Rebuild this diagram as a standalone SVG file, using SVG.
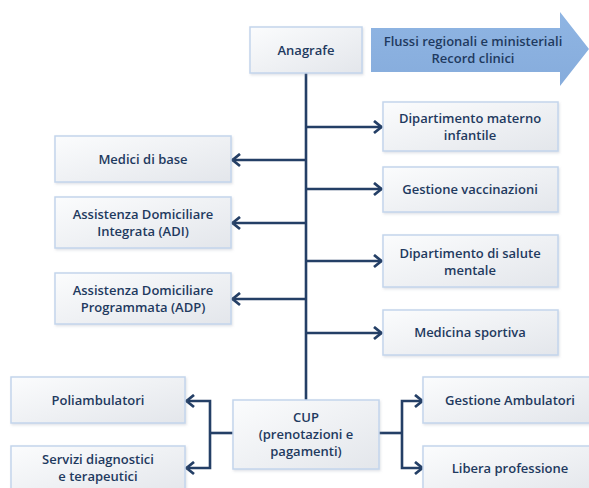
<svg xmlns="http://www.w3.org/2000/svg" width="589" height="488" viewBox="0 0 589 488">
  <defs>
    <linearGradient id="boxFill" x1="0" y1="0" x2="1" y2="1">
      <stop offset="0" stop-color="#fbfcfd"/>
      <stop offset="1" stop-color="#e3e6eb"/>
    </linearGradient>
    <linearGradient id="bigArrowFill" x1="0" y1="0" x2="0" y2="1">
      <stop offset="0" stop-color="#8fb5e3"/>
      <stop offset="1" stop-color="#86acdc"/>
    </linearGradient>
    <filter id="soft" x="-5%" y="-5%" width="115%" height="120%">
      <feDropShadow dx="1" dy="1.5" stdDeviation="1" flood-color="#7f8ea3" flood-opacity="0.25"/>
    </filter>
    <marker id="head" viewBox="0 0 11 15" refX="10" refY="7.5" markerWidth="11" markerHeight="15" markerUnits="userSpaceOnUse" orient="auto">
      <path d="M2,1.5 L9.5,7.5 L2,13.5" fill="none" stroke="#243f66" stroke-width="2.8" stroke-linejoin="miter"/>
    </marker>
  </defs>
  <style>
    .box { fill: url(#boxFill); stroke: #c3d5ec; stroke-width: 1.5; filter: url(#soft); }
    .lbl { font-family: "Open Sans", "Noto Sans", "DejaVu Sans", sans-serif; font-size: 13px; font-weight: 600; fill: #1f3a5f; text-anchor: middle; }
    .wire { fill: none; stroke: #243f66; stroke-width: 2.6; }
    .arr { marker-end: url(#head); }
  </style>

  <rect width="589" height="488" fill="#ffffff"/>

  <!-- connectors -->
  <g id="connectors">
    <line class="wire" x1="306" y1="73" x2="306" y2="400"/>
    <line class="wire arr" x1="306" y1="127" x2="382" y2="127"/>
    <line class="wire arr" x1="306" y1="189" x2="382" y2="189"/>
    <line class="wire arr" x1="306" y1="261" x2="382" y2="261"/>
    <line class="wire arr" x1="306" y1="333" x2="382" y2="333"/>
    <line class="wire arr" x1="306" y1="160" x2="232" y2="160"/>
    <line class="wire arr" x1="306" y1="223" x2="232" y2="223"/>
    <line class="wire arr" x1="306" y1="299" x2="232" y2="299"/>
    <!-- CUP fan-out left -->
    <line class="wire" x1="233" y1="433" x2="210" y2="433"/>
    <path class="wire arr" d="M210,433 V401 H186"/>
    <path class="wire arr" d="M210,433 V468 H186"/>
    <!-- CUP fan-out right -->
    <line class="wire" x1="379" y1="433" x2="402" y2="433"/>
    <path class="wire arr" d="M402,433 V401 H423"/>
    <path class="wire arr" d="M402,433 V468 H423"/>
  </g>

  <g id="flussi">
    <path d="M371,28 H560 V12 L589,49 L560,86 V72 H371 Z" fill="url(#bigArrowFill)"/>
    <text class="lbl" x="473" y="46">Flussi regionali e ministeriali</text>
    <text class="lbl" x="473" y="63">Record clinici</text>
  </g>

  <g id="anagrafe">
    <rect class="box" x="250" y="27" width="112" height="46"/>
    <text class="lbl" x="306" y="55">Anagrafe</text>
  </g>

  <g id="materno">
    <rect class="box" x="383" y="102" width="175" height="49"/>
    <text class="lbl" x="470" y="123">Dipartimento materno</text>
    <text class="lbl" x="470" y="140">infantile</text>
  </g>
  <g id="vaccinazioni">
    <rect class="box" x="383" y="167" width="175" height="45"/>
    <text class="lbl" x="470" y="194">Gestione vaccinazioni</text>
  </g>
  <g id="salute-mentale">
    <rect class="box" x="383" y="235" width="175" height="52"/>
    <text class="lbl" x="470" y="258">Dipartimento di salute</text>
    <text class="lbl" x="470" y="275">mentale</text>
  </g>
  <g id="medicina-sportiva">
    <rect class="box" x="383" y="310" width="175" height="45"/>
    <text class="lbl" x="470" y="337">Medicina sportiva</text>
  </g>

  <g id="medici">
    <rect class="box" x="55" y="136" width="176" height="46"/>
    <text class="lbl" x="143" y="164">Medici di base</text>
  </g>
  <g id="adi">
    <rect class="box" x="55" y="197" width="176" height="51"/>
    <text class="lbl" x="143" y="219">Assistenza Domiciliare</text>
    <text class="lbl" x="143" y="236">Integrata (ADI)</text>
  </g>
  <g id="adp">
    <rect class="box" x="55" y="273" width="176" height="51"/>
    <text class="lbl" x="143" y="295">Assistenza Domiciliare</text>
    <text class="lbl" x="143" y="312">Programmata (ADP)</text>
  </g>

  <g id="cup">
    <rect class="box" x="233" y="400" width="146" height="69"/>
    <text class="lbl" x="306" y="422">CUP</text>
    <text class="lbl" x="306" y="439">(prenotazioni e</text>
    <text class="lbl" x="306" y="456">pagamenti)</text>
  </g>

  <g id="poliambulatori">
    <rect class="box" x="11" y="377" width="174" height="46"/>
    <text class="lbl" x="98" y="405">Poliambulatori</text>
  </g>
  <g id="servizi">
    <rect class="box" x="11" y="446" width="174" height="50"/>
    <text class="lbl" x="98" y="464">Servizi diagnostici</text>
    <text class="lbl" x="98" y="481">e terapeutici</text>
  </g>

  <g id="gestione-ambulatori">
    <rect class="box" x="423" y="377" width="170" height="46"/>
    <text class="lbl" x="510" y="405">Gestione Ambulatori</text>
  </g>
  <g id="libera-professione">
    <rect class="box" x="423" y="446" width="170" height="50"/>
    <text class="lbl" x="510" y="473">Libera professione</text>
  </g>
</svg>
